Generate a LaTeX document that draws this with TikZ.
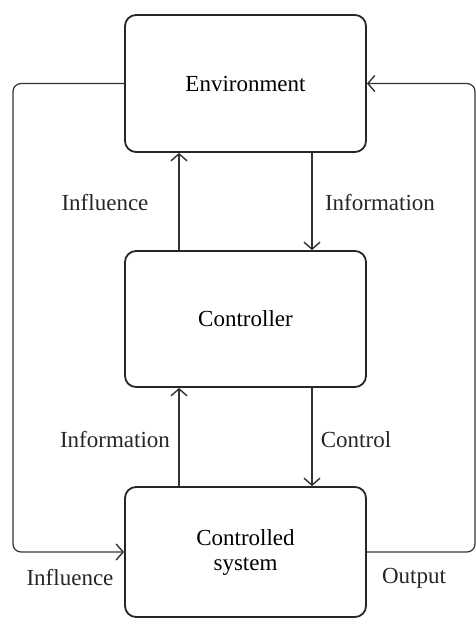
\documentclass[tikz,border=0pt]{standalone}
\usepackage{fontspec}
\setmainfont{Liberation Serif}
\usetikzlibrary{arrows.meta}
\begin{document}
\begin{tikzpicture}[x=1pt,y=-1pt,
  box/.style={draw=black!85, line width=1.8pt, rounded corners=11pt, minimum width=241pt, inner sep=0pt, font=\fontsize{23}{26}\selectfont, align=center},
  conn/.style={draw=black!80, line width=1.2pt, -{Straight Barb[length=7pt,width=16pt,line width=1.4pt]}},
  lbl/.style={font=\fontsize{23}{26}\selectfont, text=black!85, inner sep=0pt}]
\useasboundingbox (0,0) rectangle (476,619);
\node[box, minimum height=137pt] (env) at (245.5,83.5) {Environment};
\node[box, minimum height=136pt] (ctrl) at (245.5,319) {Controller};
\node[box, minimum height=130pt] (cs) at (245.5,552) {Controlled\\[-1pt]system};
\coordinate (lc) at (13,300);
\coordinate (rc) at (475,300);
\draw[conn, rounded corners=8pt] (env.west) -| (lc) |- (cs.west);
\draw[conn, rounded corners=8pt] (cs.east) -| (rc) |- (env.east);
\draw[conn] ([xshift=-66.5pt]ctrl.north) -- ([xshift=-66.5pt]env.south);
\draw[conn] ([xshift=66.5pt]env.south) -- ([xshift=66.5pt]ctrl.north);
\draw[conn] ([xshift=-66.5pt]cs.north) -- ([xshift=-66.5pt]ctrl.south);
\draw[conn] ([xshift=66.5pt]ctrl.south) -- ([xshift=66.5pt]cs.north);
\node[lbl] (l1) at (105,203) {Influence};
\node[lbl] (l2) at (380,203) {Information};
\node[lbl] (l3) at (115,440) {Information};
\node[lbl] (l4) at (356,440) {Control};
\node[lbl] (l5) at (70,578) {Influence};
\node[lbl] (l6) at (414,578) {Output};
\end{tikzpicture}
\end{document}
